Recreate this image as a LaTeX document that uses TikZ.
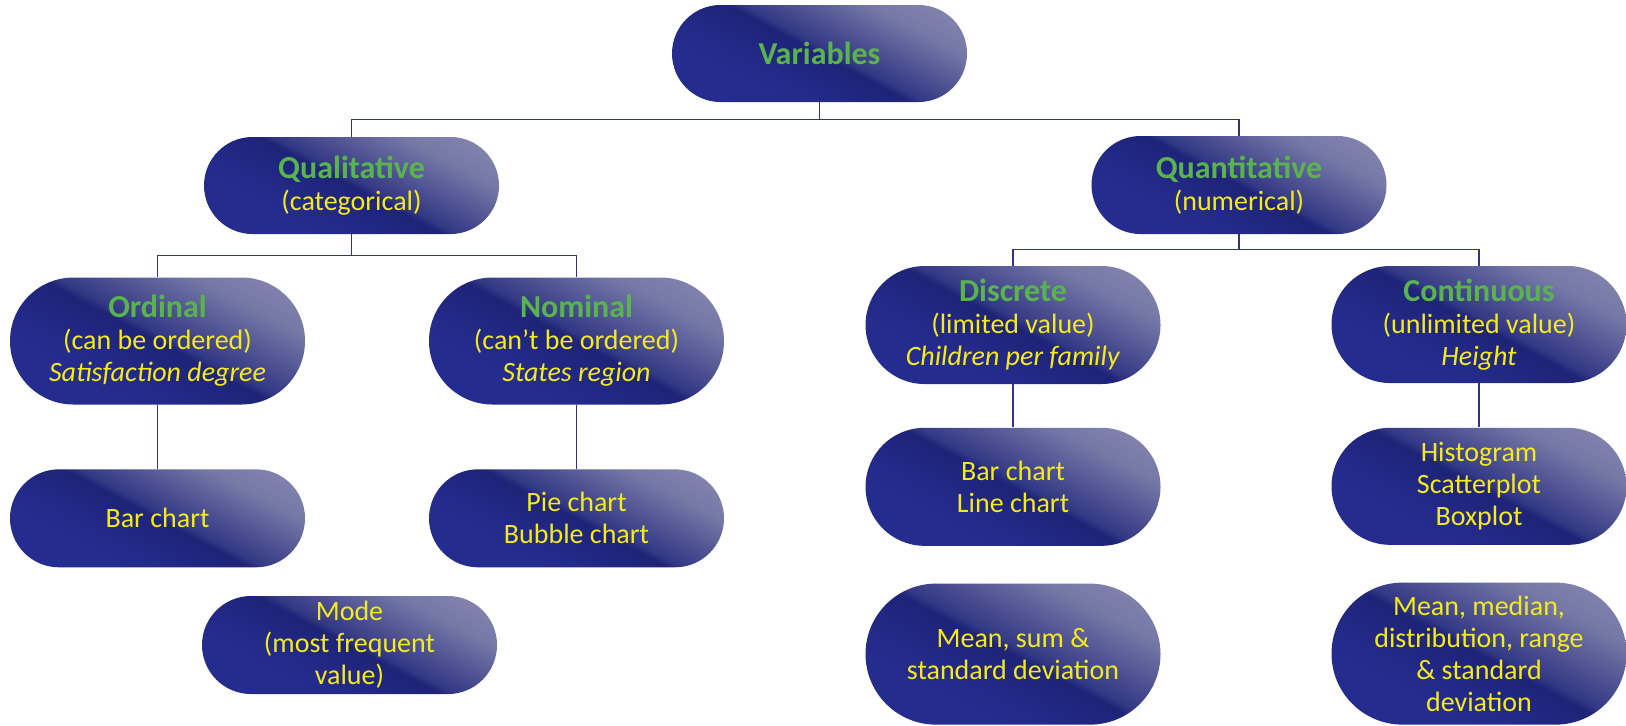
\documentclass[tikz,border=0pt]{standalone}
\usepackage{fontspec}
\setmainfont{Carlito}
\usetikzlibrary{positioning}

\definecolor{navyline}{RGB}{46,52,140}
\definecolor{titlegreen}{RGB}{90,180,78}
\definecolor{labelyellow}{RGB}{244,234,30}

% dark navy with a lighter corner at the top right
\pgfdeclareverticalshading{pillshade}{100bp}{%
  rgb(0bp)=(0.15,0.18,0.58);
  rgb(35bp)=(0.14,0.17,0.55);
  rgb(50bp)=(0.12,0.14,0.47);
  rgb(52bp)=(0.20,0.22,0.52);
  rgb(70bp)=(0.46,0.47,0.65);
  rgb(100bp)=(0.62,0.62,0.75)}

\newcommand{\ttl}[1]{{\fontsize{16}{18}\selectfont\bfseries\color{titlegreen}#1}}

\begin{document}
\begin{tikzpicture}[
    x=0.5pt, y=-0.5pt,
    pill/.style={rectangle, minimum width=147.5pt, minimum height=#1*0.5pt, rounded corners=#1*0.25pt, shading=pillshade, shading angle=-28, inner xsep=2pt, inner ysep=0pt, align=center, text=labelyellow, font=\fontsize{14}{16}\selectfont},
    link/.style={draw=navyline, line width=0.9pt}
]
    \path[fill=white, use as bounding box] (0,0) rectangle (1626,725);

    \node[pill=97] (var) at (819.5,53.5) {\ttl{Variables}};
    \node[pill=97] (qual) at (351.5,185.5) {\ttl{Qualitative}\\(categorical)};
    \node[pill=98] (quant) at (1239,185) {\ttl{Quantitative}\\(numerical)};

    \node[pill=127] (ord) at (157.5,341) {\ttl{Ordinal}\\(can be ordered)\\\textit{Satisfaction degree}};
    \node[pill=127] (nom) at (576.5,341) {\ttl{Nominal}\\(can’t be ordered)\\\textit{States region}};
    \node[pill=118] (disc) at (1013,325) {\ttl{Discrete}\\(limited value)\\\textit{Children per family}};
    \node[pill=117] (cont) at (1479,324.5) {\ttl{Continuous}\\(unlimited value)\\\textit{Height}};

    \node[pill=98, below=32pt of ord] (ordbar) {Bar chart};
    \node[pill=98, below=32pt of nom] (nompie) {Pie chart\\Bubble chart};
    \node[pill=98] (mode) at (349.5,645) {Mode\\(most frequent\\value)};
    \node[pill=118, below=21.5pt of disc] (discbar) {Bar chart\\Line chart};
    \node[pill=117, below=22pt of cont] (conthist) {Histogram\\Scatterplot\\Boxplot};
    \node[pill=141, below=18.5pt of discbar] (discstat) {Mean, sum \&\\standard deviation};
    \node[pill=142, below=18.5pt of conthist] (contstat) {Mean, median,\\distribution, range\\\& standard\\deviation};

    \draw[link] (var.south) -- ++(0,17) -| (qual.north);
    \draw[link] (var.south) -- ++(0,17) -| (quant.north);
    \draw[link] (qual.south) -- ++(0,21) -| (ord.north);
    \draw[link] (qual.south) -- ++(0,21) -| (nom.north);
    \draw[link] (quant.south) -- ++(0,15) -| (disc.north);
    \draw[link] (quant.south) -- ++(0,15) -| (cont.north);
    \draw[link] (ord) -- (ordbar);
    \draw[link] (nom) -- (nompie);
    \draw[link] (disc) -- (discbar);
    \draw[link] (cont) -- (conthist);
\end{tikzpicture}
\end{document}
